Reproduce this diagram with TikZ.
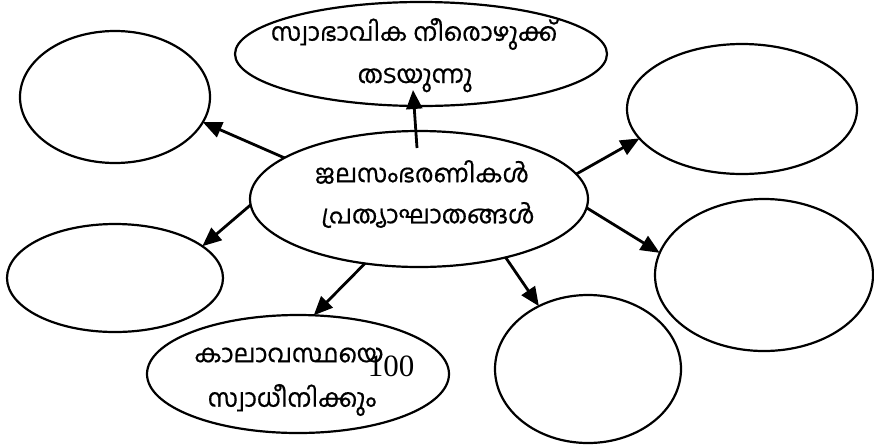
\documentclass[tikz,border=0pt]{standalone}
\usepackage{fontspec}
\newfontfamily\mlfont[Script=Malayalam,FakeBold=0.6]{Hind Kochi}
\newfontfamily\serifnum{Liberation Serif}
\usetikzlibrary{shapes.geometric,arrows.meta}
\begin{document}
\begin{tikzpicture}[x=1pt,y=-1pt,
  bub/.style={ellipse,draw,line width=2.2pt,inner sep=0pt,outer sep=0pt},
  lbl/.style={font=\mlfont\fontsize{25}{29}\selectfont,inner sep=0pt,anchor=center},
  arr/.style={line width=2.8pt,-{Triangle[length=19pt,width=16pt]}}]
\useasboundingbox[fill=white] (0,0) rectangle (874,445);
% ellipses
\node[bub,minimum width=372pt,minimum height=104pt] (t) at (421,54) {};
\node[bub,minimum width=338pt,minimum height=136pt] (c) at (419,199) {};
\node[bub,minimum width=190pt,minimum height=132pt] (tl) at (115,97) {};
\node[bub,minimum width=216pt,minimum height=108pt] (bl) at (115,278) {};
\node[bub,minimum width=302pt,minimum height=118pt] (bm) at (298,374) {};
\node[bub,minimum width=186pt,minimum height=148pt] (br) at (588,369) {};
\node[bub,minimum width=230pt,minimum height=130pt] (tr) at (742,109) {};
\node[bub,minimum width=218pt,minimum height=152pt] (r) at (764,275) {};
% texts
\node[lbl] (t1) at (414,34) {സ്വാഭാവിക നീരൊഴുക്ക്};
\node[lbl] (t2) at (415,80) {തടയുന്നു};
\node[lbl] (c1) at (422,172) {ജലസംഭരണികൾ};
\node[lbl] (c2) at (428,215) {പ്രത്യാഘാതങ്ങൾ};
\node[lbl] (b1) at (289,355) {കാലാവസ്ഥയെ};
\node[lbl] (b2) at (292,400) {സ്വാധീനിക്കും};
\node[font=\serifnum\fontsize{31}{35}\selectfont,inner sep=0pt] (num) at (391,366) {100};
% arrows
\draw[arr] ([xshift=-2pt,yshift=-17pt]c.north) -- ([xshift=-8pt,yshift=16pt]t.south);
\draw[arr] (c.163) -- (tl.-16);
\draw[arr] (c.182) -- (bl.20);
\draw[arr] (c.230) -- (bm.75);
\draw[arr] (c.326) -- (br.128);
\draw[arr] (c.9) -- (tr.196);
\draw[arr] (c.-3) -- (r.168);
\end{tikzpicture}
\end{document}
